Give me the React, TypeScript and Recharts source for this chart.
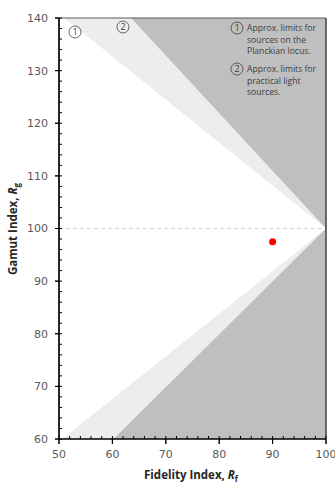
import { ComposedChart, Area, Scatter, XAxis, YAxis, ReferenceLine } from "recharts";

document.body.style.margin = "0";

// boundary lines of the two limit wedges, as (Rf, Rg) vertices meeting at (100, 100)
const planckianUpper = [
  { rf: 51, rg: 140 },
  { rf: 100, rg: 100 },
];
const planckianLower = [
  { rf: 50.6, rg: 60 },
  { rf: 100, rg: 100 },
];
const practicalUpper = [
  { rf: 63.5, rg: 140 },
  { rf: 100, rg: 100 },
];
const practicalLower = [
  { rf: 60.2, rg: 60 },
  { rf: 100, rg: 100 },
];

const sample = [{ rf: 90, rg: 97.5 }];

const xMajor = [50, 60, 70, 80, 90, 100];
const yMajor = [60, 70, 80, 90, 100, 110, 120, 130, 140];
const xMinor = Array.from({ length: 26 }, (_, i) => 50 + i * 2);
const yMinor = Array.from({ length: 41 }, (_, i) => 60 + i * 2);

const W = 335;
const H = 487;
// plot box (matches the chart margins + axis sizes below)
const PL = 59;
const PR = 326;
const PT = 18;
const PB = 439;
const px = (v: number) => PL + ((v - 50) / 50) * (PR - PL);
const py = (v: number) => PB - ((v - 60) / 80) * (PB - PT);

const DARK = "#bfbfbf";
const LIGHT = "#ededed";
const tickFont = { fontFamily: "DejaVu Sans", fontSize: 11, fill: "#595959" };

// fill above the upper line / below the lower line
const above = (pts: { rf: number; rg: number }[]) => pts.map((p) => ({ rf: p.rf, range: [p.rg, 140] }));
const below = (pts: { rf: number; rg: number }[]) => pts.map((p) => ({ rf: p.rf, range: [60, p.rg] }));

function Num({ cx, cy, n }: { cx: number; cy: number; n: string }) {
  return (
    <g>
      <circle cx={cx} cy={cy} r={6} fill="none" stroke="#404040" strokeWidth={0.8} />
      <text x={cx} y={cy + 3.2} textAnchor="middle" fontFamily="Open Sans" fontSize={9} fill="#404040">
        {n}
      </text>
    </g>
  );
}

const legendLines1 = ["Approx. limits for", "sources on the", "Planckian locus."];
const legendLines2 = ["Approx. limits for", "practical light", "sources."];

export default function App() {
  return (
    <div style={{ position: "relative", width: W, height: H }}>
      <ComposedChart width={W} height={H} margin={{ top: PT, right: W - PR, left: 0, bottom: 0 }}>
        <XAxis
          xAxisId="b"
          type="number"
          dataKey="rf"
          domain={[50, 100]}
          ticks={xMajor}
          tick={tickFont}
          tickSize={5}
          tickMargin={6}
          tickLine={{ stroke: "#000" }}
          height={H - PB}
          axisLine={{ stroke: "#000", strokeWidth: 1.2 }}
        />
        <YAxis
          yAxisId="l"
          type="number"
          domain={[60, 140]}
          ticks={yMajor}
          tick={tickFont}
          tickSize={4}
          tickMargin={7}
          tickLine={{ stroke: "#000" }}
          width={PL}
          axisLine={{ stroke: "#000", strokeWidth: 1.2 }}
        />
        <Area xAxisId="b" yAxisId="l" data={above(planckianUpper)} dataKey="range" type="linear" stroke="none" fill={LIGHT} fillOpacity={1} isAnimationActive={false} />
        <Area xAxisId="b" yAxisId="l" data={below(planckianLower)} dataKey="range" type="linear" stroke="none" fill={LIGHT} fillOpacity={1} isAnimationActive={false} />
        <Area xAxisId="b" yAxisId="l" data={above(practicalUpper)} dataKey="range" type="linear" stroke="none" fill={DARK} fillOpacity={1} isAnimationActive={false} />
        <Area xAxisId="b" yAxisId="l" data={below(practicalLower)} dataKey="range" type="linear" stroke="none" fill={DARK} fillOpacity={1} isAnimationActive={false} />
        <ReferenceLine xAxisId="b" yAxisId="l" y={100} stroke="#d0d0d0" strokeDasharray="4 3" />
        <Scatter
          xAxisId="b"
          yAxisId="l"
          data={sample}
          dataKey="rg"
          fill="#ff0000"
          isAnimationActive={false}
          shape={(p: any) => <circle cx={p.cx} cy={p.cy} r={3.5} fill="#ff0000" />}
        />
      </ComposedChart>
      <svg width={W} height={H} style={{ position: "absolute", left: 0, top: 0, pointerEvents: "none" }}>
        {/* frame and tick marks, drawn above the shaded wedges */}
        <line x1={PL} x2={PR} y1={PT} y2={PT} stroke="#595959" />
        <line x1={PR} x2={PR} y1={PT} y2={PB} stroke="#404040" strokeWidth={1.5} />
        <line x1={PL} x2={PR} y1={PB} y2={PB} stroke="#000" strokeWidth={1.2} />
        <line x1={PL} x2={PL} y1={PT} y2={PB} stroke="#000" strokeWidth={1.2} />
        {xMinor.map((v) => (
          <line key={"x" + v} x1={px(v)} x2={px(v)} y1={PB - 3} y2={xMajor.includes(v) ? PB + 5 : PB} stroke="#000" />
        ))}
        {yMinor.map((v) => (
          <line key={"y" + v} x1={yMajor.includes(v) ? PL - 4 : PL} x2={PL + 3} y1={py(v)} y2={py(v)} stroke="#000" />
        ))}
        <Num cx={75} cy={32} n="1" />
        <Num cx={123} cy={27} n="2" />
        <Num cx={237} cy={28} n="1" />
        {legendLines1.map((t, i) => (
          <text key={t} x={247} y={31 + i * 11.5} fontFamily="Open Sans" fontSize={8.6} fill="#404040">
            {t}
          </text>
        ))}
        <Num cx={237} cy={69} n="2" />
        {legendLines2.map((t, i) => (
          <text key={t} x={247} y={72 + i * 11.5} fontFamily="Open Sans" fontSize={8.6} fill="#404040">
            {t}
          </text>
        ))}
        <text x={191} y={479} textAnchor="middle" fontFamily="Open Sans" fontWeight="bold" fontSize={11.5} fill="#262626">
          Fidelity Index, <tspan fontStyle="italic">R</tspan>
          <tspan fontSize={8} dy={3}>f</tspan>
        </text>
        <text transform="translate(17 229) rotate(-90)" textAnchor="middle" fontFamily="Open Sans" fontWeight="bold" fontSize={11.5} fill="#262626">
          Gamut Index, <tspan fontStyle="italic">R</tspan>
          <tspan fontSize={8} dy={3}>g</tspan>
        </text>
      </svg>
    </div>
  );
}
